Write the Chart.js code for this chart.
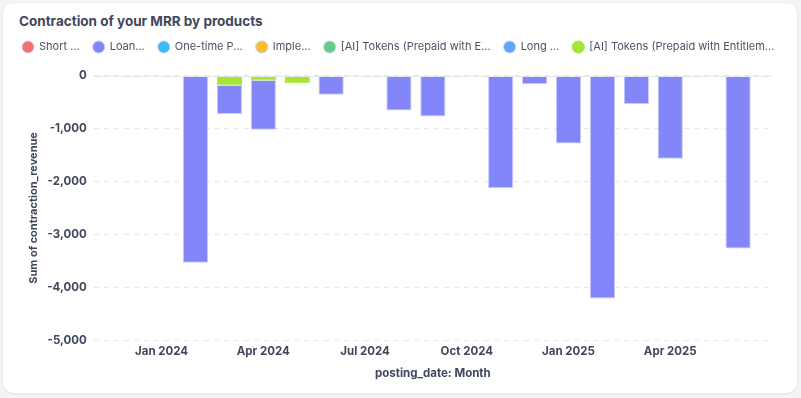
<!DOCTYPE html>
<html>
<head>
<meta charset="utf-8">
<script src="https://cdn.jsdelivr.net/npm/chart.js@4"></script>
<style>
    html, body { margin: 0; padding: 0; background: #f3f4f6; }
    .card {
        position: absolute; left: 3px; top: 3px; width: 794px; height: 390px;
        background: #fff; border-radius: 10px; box-shadow: 0 1px 3px rgba(0,0,0,0.08);
    }
    .title {
        position: absolute; left: 19px; top: 13px; margin: 0;
        font: bold 13.5px Inter, "Noto Sans", sans-serif; line-height: 16px; color: #3f475c;
    }
    #wrap { position: absolute; left: 0; top: 0; width: 801px; height: 398px; }
</style>
</head>
<body>
<div class="card"></div>
<h1 class="title">Contraction of your MRR by products</h1>
<div id="wrap"><canvas id="contractionChart" width="801" height="398"></canvas></div>
<script>
const months = ['Nov 2023', 'Dec 2023', 'Jan 2024', 'Feb 2024', 'Mar 2024', 'Apr 2024', 'May 2024', 'Jun 2024',
    'Jul 2024', 'Aug 2024', 'Sep 2024', 'Oct 2024', 'Nov 2024', 'Dec 2024', 'Jan 2025', 'Feb 2025',
    'Mar 2025', 'Apr 2025', 'May 2025', 'Jun 2025', 'Jul 2025'];
const seriesNames = ['Short ...', 'Loan...', 'One-time P...', 'Imple...', '[AI] Tokens (Prepaid with E...', 'Long ...', '[AI] Tokens (Prepaid with Entitlem...'];
const seriesColors = ['#f87171', '#8286f9', '#38bdf8', '#fbbf24', '#5fcf84', '#60a5fa', '#a3e635'];
const loanValues = [null, null, null, -3535, -535, -930, null, -345, null, -660, -775, null, -2110, -165, -1285, -4208, -540, -1570, null, -3264, null];
const tokensEntValues = [null, null, null, null, -190, -95, -145, -20, null, null, null, null, -20, null, null, null, null, null, null, null, null];
const emptyValues = months.map(() => null);
const yTicks = [0, -1000, -2000, -3000, -4000, -5000];
const shownMonths = ['Jan 2024', 'Apr 2024', 'Jul 2024', 'Oct 2024', 'Jan 2025', 'Apr 2025'];

const textColor = '#3f475c';
const fontFamily = 'Inter, "Noto Sans", sans-serif';

const seriesData = [emptyValues, loanValues, emptyValues, emptyValues, emptyValues, emptyValues, tokensEntValues];

// draw the zero line solid, the rest stay dashed
const zeroLine = {
    id: 'zeroLine',
    afterDatasetsDraw(chart) {
        const y = chart.scales.y.getPixelForValue(0);
        const { left, right } = chart.chartArea;
        const ctx = chart.ctx;
        ctx.save();
        ctx.strokeStyle = '#e5e7eb';
        ctx.lineWidth = 1;
        ctx.beginPath();
        ctx.moveTo(left, Math.round(y) + 0.5);
        ctx.lineTo(right, Math.round(y) + 0.5);
        ctx.stroke();
        ctx.restore();
    }
};

// a bit more room under the legend
const legendSpacing = {
    id: 'legendSpacing',
    beforeInit(chart) {
        const origFit = chart.legend.fit;
        chart.legend.fit = function () {
            origFit.call(this);
            this.height += 13;
        };
    }
};

new Chart(document.getElementById('contractionChart'), {
    type: 'bar',
    data: {
        labels: months,
        datasets: seriesNames.map((name, i) => ({
            label: name,
            data: seriesData[i],
            backgroundColor: seriesColors[i],
            borderColor: i === 6 ? '#a3e635' : '#c8cafd',
            borderWidth: 1,
            order: i === 6 ? 0 : 1,
            categoryPercentage: 0.8,
            barPercentage: 0.93
        }))
    },
    options: {
        responsive: false,
        animation: false,
        layout: { padding: { left: 9, right: 10, top: 28, bottom: 14 } },
        plugins: {
            title: { display: false },
            legend: {
                align: 'start',
                labels: {
                    usePointStyle: true,
                    pointStyle: 'circle',
                    boxHeight: 8.5,
                    color: '#4b5263',
                    padding: 13.5,
                    font: { family: fontFamily, size: 11 },
                    sort: (a, b) => a.datasetIndex - b.datasetIndex
                }
            },
            tooltip: { enabled: false }
        },
        scales: {
            x: {
                stacked: true,
                offset: false,
                grid: { display: false, drawTicks: false },
                border: { display: false },
                ticks: {
                    autoSkip: false,
                    maxRotation: 0,
                    padding: 4,
                    color: textColor,
                    font: { family: fontFamily, size: 11.5, weight: 'bold' },
                    callback: function (value) {
                        const label = this.getLabelForValue(value);
                        return shownMonths.includes(label) ? label : '';
                    }
                },
                title: {
                    display: true,
                    text: 'posting_date: Month',
                    color: textColor,
                    font: { family: fontFamily, size: 11.5, weight: 'bold' },
                    padding: { top: 4, bottom: 4 }
                }
            },
            y: {
                stacked: true,
                min: yTicks[yTicks.length - 1],
                max: yTicks[0],
                grid: { color: '#e5e7eb', drawTicks: false },
                border: { display: false, dash: [5, 5] },
                ticks: {
                    stepSize: 1000,
                    padding: 7,
                    color: textColor,
                    font: { family: fontFamily, size: 11.5, weight: 'bold' }
                },
                title: {
                    display: true,
                    text: 'Sum of contraction_revenue',
                    color: textColor,
                    font: { family: fontFamily, size: 11, weight: 'bold' },
                    padding: { top: 18, bottom: 0 }
                }
            },
            // empty right-hand axis, only keeps space free at the right edge
            spacer: {
                type: 'linear',
                position: 'right',
                display: true,
                grid: { display: false, drawTicks: false },
                border: { display: false },
                ticks: { display: false },
                afterFit: scale => { scale.width = 19; }
            }
        }
    },
    plugins: [zeroLine, legendSpacing]
});
</script>
</body>
</html>
